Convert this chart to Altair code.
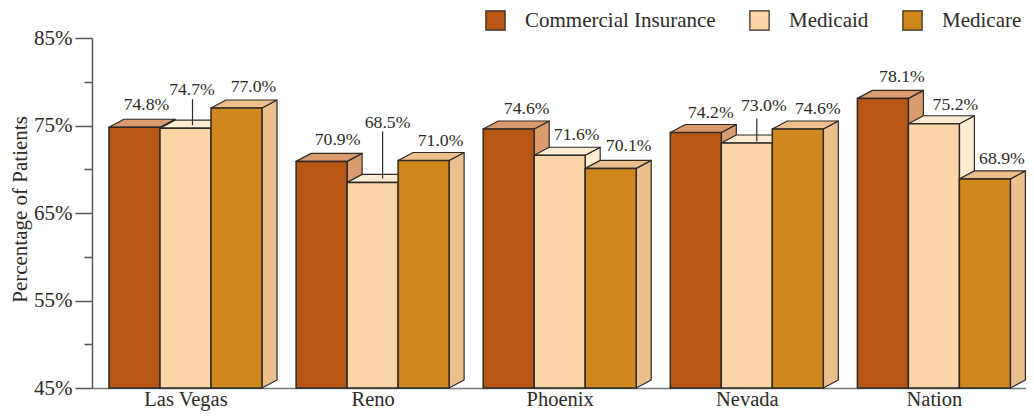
import altair as alt
import pandas as pd

groups = ["Las Vegas", "Reno", "Phoenix", "Nevada", "Nation"]
series = ["Commercial Insurance", "Medicaid", "Medicare"]
commercial = [74.8, 70.9, 74.6, 74.2, 78.1]
medicaid = [74.7, 68.5, 71.6, 73.0, 75.2]
medicare = [77.0, 71.0, 70.1, 74.6, 68.9]
values = [commercial, medicaid, medicare]

front = ["#B85713", "#FBD5A6", "#D0871B"]
lighter = ["#DA9B6F", "#FDEBD2", "#EBC08C"]
INK = "#2E2A28"
FONT = "Liberation Serif"

# pixel geometry of the plot, expressed through the scales
W, H = 934, 350
PITCH = 187.1                # px between groups
BAR = 51.0                   # px bar width
START = 17.0                 # px from axis to first bar
DX, DY = 15.0, 8.0           # px depth of the 3D faces
YMIN, YMAX = 45, 85
PX_PER_UNIT = H / (YMAX - YMIN)
dy = DY / PX_PER_UNIT

# label nudges in px relative to (bar centre, bar top), one list per series
label_nudge = {
    0: [(12, 22), (16, 21), (18, 20.5), (15, 20), (19, 21)],
    1: [(6.5, 38.6), (15, 59), (17, 20.7), (17, 37.5), (21.5, 19)],
    2: [(17, 21.5), (17, 20), (18, 22), (20, 20.5), (17, 20)],
}
# leader lines: (series, group, px offset from bar centre, px gap below end, px top end)
leaders = [(1, 0, 7, 3, 29), (1, 1, 10, 4, 51), (1, 3, 10, 1.5, 24.5)]

side_rows, top_rows, front_rows, label_rows, leader_rows = [], [], [], [], []
for s, vals in enumerate(values):
    for g, v in enumerate(vals):
        L = START + g * PITCH + s * BAR
        R = L + BAR
        front_rows.append(dict(s=series[s], si=s, g=g, x=L, x2=R, y=v, y2=YMIN))
        side_rows += [
            dict(si=s, g=g, x=R, y=v, y2=YMIN),
            dict(si=s, g=g, x=R + DX, y=v + dy, y2=YMIN + dy),
        ]
        top_rows += [
            dict(si=s, g=g, x=L, y=v, y2=v),
            dict(si=s, g=g, x=L + DX, y=v + dy, y2=v),
            dict(si=s, g=g, x=R, y=v + dy, y2=v),
            dict(si=s, g=g, x=R + DX, y=v + dy, y2=v + dy),
        ]
        nx, ny = label_nudge[s][g]
        label_rows.append(dict(x=(L + R) / 2 + nx, y=v + ny / PX_PER_UNIT, t=f"{v:.1f}%"))
for s, g, off, lo, hi in leaders:
    v = values[s][g]
    cx = START + g * PITCH + s * BAR + BAR / 2 + off
    leader_rows.append(dict(x=cx, y=v + lo / PX_PER_UNIT, y2=v + hi / PX_PER_UNIT))

side_df = pd.DataFrame(side_rows)
top_df = pd.DataFrame(top_rows)
front_df = pd.DataFrame(front_rows)

c0 = START + 1.5 * BAR
centers = [c0 + g * PITCH for g in range(len(groups))]
x_scale = alt.Scale(domain=[0, W], range=[0, W], nice=False, zero=False)
y_scale = alt.Scale(domain=[YMIN, YMAX], nice=False, zero=False)
label_js = "[" + ",".join(f"'{g}'" for g in groups) + "]"

x_axis = alt.Axis(
    values=centers, title=None, ticks=False, grid=False,
    labelExpr=f"{label_js}[round((datum.value-{c0})/{PITCH})]",
    labelFont=FONT, labelFontSize=20.5, labelColor=INK, labelPadding=1, labelAngle=0, labelBaseline="top",
    domainColor="#777777", domainWidth=1.5, labelOverlap=False, labelFlush=False,
)
y_axis = alt.Axis(
    values=list(range(45, 86, 5)), title="Percentage of Patients", grid=False,
    labelExpr="datum.value % 10 == 5 ? datum.value + '%' : ''",
    tickSize={"condition": {"test": "datum.value % 10 == 5", "value": 17}, "value": 8},
    tickColor="#555555", tickWidth=1.5, domainColor="#555555", domainWidth=1.5,
    labelFont=FONT, labelFontSize=21, labelColor=INK, labelPadding=3,
    titleFont=FONT, titleFontSize=21, titleColor=INK, titleFontWeight="normal",
    titlePadding=3, titleY=171, labelOverlap=False, labelFlush=False,
)

X = alt.X("x:Q", scale=x_scale, axis=x_axis)
Y = alt.Y("y:Q", scale=y_scale, axis=y_axis)

layers = []
for s in range(3):
    layers.append(
        alt.Chart(side_df[side_df.si == s]).mark_area(
            fill=lighter[s], stroke=INK, strokeWidth=1.2, strokeJoin="round", clip=False, opacity=1
        ).encode(x=X, y=Y, y2="y2:Q", detail="g:N")
    )
    layers.append(
        alt.Chart(top_df[top_df.si == s]).mark_area(
            fill=lighter[s], stroke=INK, strokeWidth=1.2, strokeJoin="round", clip=False, opacity=1
        ).encode(x=X, y=Y, y2="y2:Q", detail="g:N")
    )
    layers.append(
        alt.Chart(front_df[front_df.si == s]).mark_rect(
            stroke=INK, strokeWidth=1.5, opacity=1
        ).encode(
            x=X, x2="x2:Q", y=Y, y2="y2:Q",
            color=alt.Color(
                "s:N",
                scale=alt.Scale(domain=series, range=front),
                legend=alt.Legend(
                    title=None, orient="none", legendX=393, legendY=-28, direction="horizontal",
                    columns=3, gridAlign="none", columnPadding=31,
                    symbolType="square", symbolSize=370, symbolStrokeColor=INK, symbolStrokeWidth=1.2,
                    symbolOpacity=1, labelOffset=19, labelFont=FONT, labelFontSize=21, labelColor=INK,
                    labelLimit=400, padding=0,
                ),
            ),
        )
    )

leader_layer = alt.Chart(pd.DataFrame(leader_rows)).mark_rule(color=INK, strokeWidth=1.2).encode(
    x=X, y=Y, y2="y2:Q"
)
label_layer = alt.Chart(pd.DataFrame(label_rows)).mark_text(
    font=FONT, fontSize=17.7, color=INK, baseline="middle", align="center", clip=False
).encode(x=X, y=Y, text="t:N")

chart = (
    alt.layer(*layers, leader_layer, label_layer)
    .properties(
        width=W, height=H,
        autosize=alt.AutoSizeParams(type="none"),
        padding={"left": 84, "top": 30, "right": 0, "bottom": 23},
        background="white",
    )
    .configure_view(stroke=None)
)

chart.save("out.html", embed_options={"renderer": "svg", "actions": False})
